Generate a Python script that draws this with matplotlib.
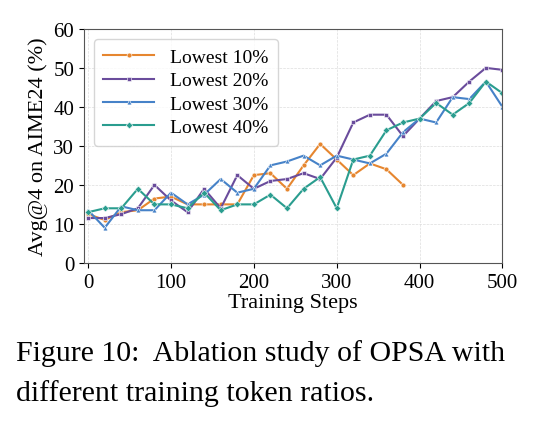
import matplotlib
matplotlib.use("Agg")
import matplotlib.pyplot as plt
import numpy as np

plt.rcParams['font.family'] = ['Liberation Serif', 'DejaVu Serif']
plt.rcParams['mathtext.fontset'] = 'stix'

steps = list(range(0, 501, 20))
low10 = [12.5, 11, 13, 13.5, 16.5, 17, 15, 15, 15, 15, 22.5, 23, 19, 25, 30.5, 26.5, 22.5, 25.5, 24, 20]
low20 = [11.5, 11.5, 12.5, 14, 20, 16, 13, 19, 14, 22.5, 19, 21, 21.5, 23, 21.5, 27, 36, 38, 38, 32.5, 37, 41.5, 42.5, 46.5, 50, 49.5]
low30 = [13.5, 9, 14.5, 13.5, 13.5, 18, 15, 17.5, 21.5, 18, 19, 25, 26, 27.5, 25, 27.5, 26.5, 25.5, 28, 33.5, 37, 36, 42.5, 42, 46.5, 40]
low40 = [13, 14, 14, 19, 15, 15, 14, 18, 13.5, 15, 15, 17.5, 14, 19, 22, 14, 26.5, 27.5, 34, 36, 37, 41, 38, 41, 46.5, 43.5]
labels = ['Lowest 10%', 'Lowest 20%', 'Lowest 30%', 'Lowest 40%']
colors = ['#E6862F', '#6A4C9C', '#4682C8', '#2A9D8F']
markers = ['o', 's', '^', 'D']

fig = plt.figure(figsize=(5.42, 4.27), dpi=100)
ax = fig.add_axes([0.155, 0.382, 0.772, 0.548])
for ys, lab, c, m in zip([low10, low20, low30, low40], labels, colors, markers):
    ax.plot(steps[:len(ys)], ys, color=c, marker=m, markersize=3.5, lw=1.5,
            markeredgecolor='white', markeredgewidth=0.4, label=lab)
ax.set_xlim(-5, 500)
ax.set_ylim(0, 60)
ax.set_xticks([0, 100, 200, 300, 400, 500])
ax.set_yticks(range(0, 61, 10))
ax.tick_params(labelsize=15)
ax.grid(True, ls='--', lw=0.5, color='#dddddd')
ax.set_xlabel('Training Steps', fontsize=16, labelpad=1)
ax.set_ylabel('Avg@4 on AIME24 (%)', fontsize=16)
ax.legend(loc='upper left', fontsize=14, frameon=True, borderpad=0.5, labelspacing=0.3,
          handlelength=2.6)
for s in ax.spines.values():
    s.set_color('#555555')

fig.text(0.03, 0.155, 'Figure 10:  Ablation study of OPSA with', fontsize=21.5)
fig.text(0.03, 0.06, 'different training token ratios.', fontsize=21.5)
fig.savefig('out.png', dpi=100)
